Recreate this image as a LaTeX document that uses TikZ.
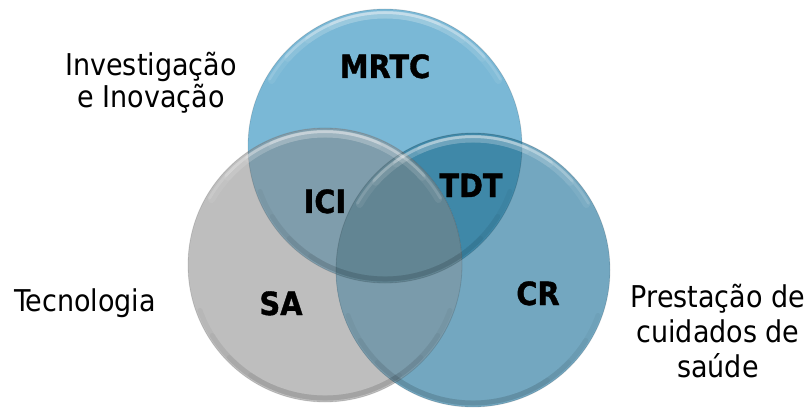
\documentclass[tikz,border=0pt]{standalone}
\usepackage{fontspec}
\setmainfont{DejaVu Sans Condensed}[BoldFeatures={FakeBold=1.2}]
\definecolor{cT}{RGB}{122,184,214}
\definecolor{cG}{RGB}{190,190,190}
\definecolor{cR}{RGB}{115,167,192}
\definecolor{cGT}{RGB}{127,157,172}
\definecolor{cRT}{RGB}{63,136,168}
\definecolor{cGR}{RGB}{122,155,171}
\definecolor{cC}{RGB}{98,133,147}
\tikzset{
  lab/.style={font=\bfseries\fontsize{32}{34}\selectfont, anchor=base, inner sep=0pt},
  outer/.style={font=\fontsize{30}{32}\selectfont, anchor=base, inner sep=0pt},
  rim/.style={white, line width=3pt, opacity=0.13, line cap=round},
  rimwide/.style={white, line width=7pt, opacity=0.07, line cap=round},
  edge/.style={black, opacity=0.12, line width=0.8pt},
  shade/.style={black, opacity=0.035, line width=5pt, line cap=round}
}
\begin{document}
\begin{tikzpicture}[x=1pt,y=-1pt]
\useasboundingbox (0,0) rectangle (812,409);
\def\Rad{137pt}
\coordinate (ct) at (385,146);
\coordinate (cg) at (325,265);
\coordinate (cr) at (473,270);
% base fills
\fill[cT] (ct) circle[radius=\Rad];
\fill[cG] (cg) circle[radius=\Rad];
\fill[cR] (cr) circle[radius=\Rad];
% top & right
\begin{scope}
  \clip (cr) circle[radius=\Rad];
  \fill[cRT] (ct) circle[radius=\Rad];
\end{scope}
% overlaps with gray
\begin{scope}
  \clip (cg) circle[radius=\Rad];
  \fill[cGT] (ct) circle[radius=\Rad];
  \fill[cGR] (cr) circle[radius=\Rad];
  \clip (cr) circle[radius=\Rad];
  \fill[cC] (ct) circle[radius=\Rad];
\end{scope}
% glossy rims and edges
\foreach \c in {ct,cg,cr}{
  \foreach \a in {0,12,24,36}{
    \draw[shade] ([shift={(200+\a:133pt)}]\c) arc[start angle=200+\a, end angle=340-\a, radius=133pt];
    \draw[rimwide] ([shift={(150-\a:131pt)}]\c) arc[start angle=150-\a, end angle=30+\a, radius=131pt];
    \draw[rim] ([shift={(150-\a:133.5pt)}]\c) arc[start angle=150-\a, end angle=30+\a, radius=133.5pt];
  }
  \draw[edge] (\c) circle[radius=\Rad];
}
% labels
\node[lab] (mrtc) at (385,78) {MRTC};
\node[lab] (tdt) at (471,197) {TDT};
\node[lab] (ici) at (325,213) {ICI};
\node[lab] (sa) at (281,315) {SA};
\node[lab] (cr) at (538,305) {CR};
% outer texts
\node[outer] (inv1) at (151,76) {Investigação};
\node[outer] (inv2) at (151,108) {e Inovação};
\node[outer] (tec) at (85,311) {Tecnologia};
\node[outer] (pr1) at (718,307) {Prestação de};
\node[outer] (pr2) at (718,342) {cuidados de};
\node[outer] (pr3) at (718,377) {saúde};
\end{tikzpicture}
\end{document}
